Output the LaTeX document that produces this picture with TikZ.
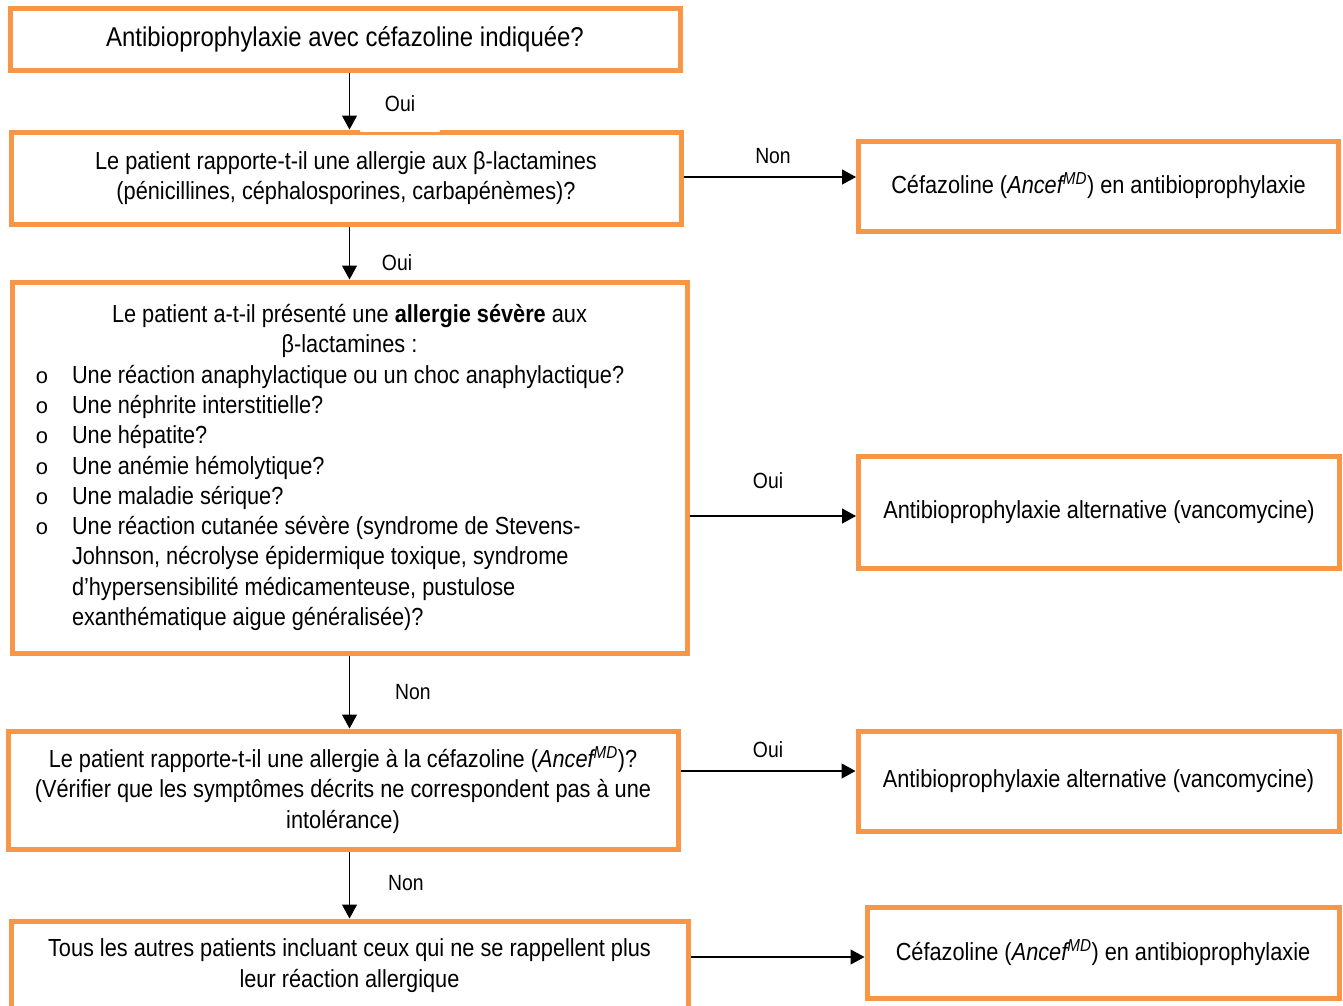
\documentclass[tikz,border=0pt]{standalone}
\usepackage{fontspec}
\setmainfont{Liberation Sans}[FakeStretch=0.88]
\newfontfamily\bulfont{Liberation Mono}
\usetikzlibrary{arrows.meta}
\definecolor{boxorange}{HTML}{F79646}
\newcommand\bodyfont{\fontsize{24.7}{30.3}\selectfont}
\newcommand\topfont{\fontsize{27.2}{32}\selectfont}
\newcommand\lblfont{\fontsize{22}{26}\selectfont}
\newcommand\bitem{\hangindent=42pt\hangafter=1\noindent\makebox[42pt][l]{\hspace{5.5pt}{\bulfont\fontsize{22}{26}\selectfont o}}}
\newcommand\ancef{(\textit{Ancef\textsuperscript{MD}})}
\tikzset{
  box/.style={draw=boxorange, line width=5pt, rectangle, inner sep=0pt, align=center, font=\bodyfont, fill=white},
  lbl/.style={font=\lblfont, inner sep=1pt},
  arr/.style={line width=1.2pt, draw=black, -{Triangle[length=14pt,width=15pt]}},
}
\begin{document}
\begin{tikzpicture}[x=1pt,y=-1pt]
\useasboundingbox (0,0) rectangle (1343,1005);
\fill[white] (0,0) rectangle (1343,1005);

% left column
\node[box, font=\topfont, minimum width=670pt, minimum height=62pt] (b1) at (345,39) {Antibioprophylaxie avec céfazoline indiquée?};
\node[box, minimum width=670pt, minimum height=92pt] (b2) at (346,178) {Le patient rapporte-t-il une allergie aux β-lactamines\\(pénicillines, céphalosporines, carbapénèmes)?};
\node[box, minimum width=675pt, minimum height=371pt] (b3) at (349.5,467.5) {\begin{minipage}{639pt}\bodyfont\centering
Le patient a-t-il présenté une \textbf{allergie sévère} aux\\ β-lactamines :\par
\raggedright
\bitem Une réaction anaphylactique ou un choc anaphylactique?\par
\bitem Une néphrite interstitielle?\par
\bitem Une hépatite?\par
\bitem Une anémie hémolytique?\par
\bitem Une maladie sérique?\par
\bitem Une réaction cutanée sévère (syndrome de Stevens-\newline Johnson, nécrolyse épidermique toxique, syndrome\newline d’hypersensibilité médicamenteuse, pustulose\newline exanthématique aigue généralisée)?\par
\end{minipage}};
\node[box, minimum width=670pt, minimum height=118pt] (b4) at (343,790) {Le patient rapporte-t-il une allergie à la céfazoline \ancef?\\(Vérifier que les symptômes décrits ne correspondent pas à une\\intolérance)};
\node[box, minimum width=677pt, minimum height=89pt] (b5) at (349.5,965.5) {Tous les autres patients incluant ceux qui ne se rappellent plus\\leur réaction allergique};

% right column
\node[box, minimum width=480pt, minimum height=90pt] (r1) at (1098.5,186) {Céfazoline \ancef{} en antibioprophylaxie};
\node[box, minimum width=481pt, minimum height=112pt] (r2) at (1099,512) {Antibioprophylaxie alternative (vancomycine)};
\node[box, minimum width=481pt, minimum height=100pt] (r3) at (1098.5,781) {Antibioprophylaxie alternative (vancomycine)};
\node[box, minimum width=472pt, minimum height=91pt] (r4) at (1103,952.5) {Céfazoline \ancef{} en antibioprophylaxie};

% helper coordinates
\coordinate (vx) at (349.5,0);
\coordinate (y1) at (0,177);
\coordinate (y2) at (0,516);
\coordinate (y3) at (0,771);
\coordinate (y4) at (0,957);

% vertical connectors
\draw[arr] (b1.south -| vx) -- (b2.north -| vx);
\draw[arr] (b2.south -| vx) -- (b3.north -| vx);
\draw[arr] (b3.south -| vx) -- (b4.north -| vx);
\draw[arr] (b4.south -| vx) -- (b5.north -| vx);

% horizontal connectors
\draw[arr] (b2.east |- y1) -- (r1.west |- y1);
\draw[arr] (b3.east |- y2) -- (r2.west |- y2);
\draw[arr] (b4.east |- y3) -- (r3.west |- y3);
\draw[arr] (b5.east |- y4) -- (r4.west |- y4);

% labels
\node[lbl, fill=white, minimum width=80pt, minimum height=56pt] (l1) at (400,104) {Oui};
\node[lbl] (l2) at (397,263) {Oui};
\node[lbl] (l3) at (773,156) {Non};
\node[lbl] (l4) at (768,481) {Oui};
\node[lbl] (l5) at (413,692) {Non};
\node[lbl] (l6) at (768,750) {Oui};
\node[lbl] (l7) at (406,883) {Non};
\end{tikzpicture}
\end{document}
